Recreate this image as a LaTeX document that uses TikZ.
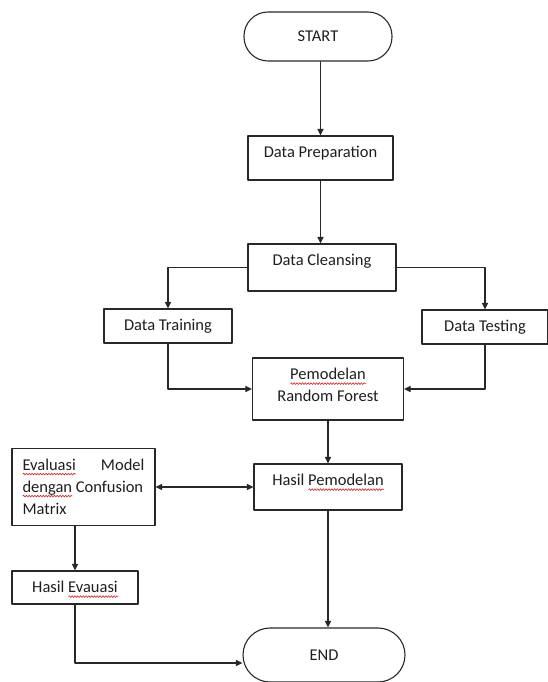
\documentclass[tikz,border=0pt]{standalone}
\usepackage{fontspec}
\setmainfont{Carlito}
\usetikzlibrary{arrows.meta,decorations.pathmorphing}
\definecolor{lineg}{RGB}{40,40,40}
\definecolor{inkg}{RGB}{30,30,30}
\definecolor{spellred}{RGB}{205,40,40}
\newcommand\spellwave[1]{\setbox0\hbox{#1}\leavevmode\rlap{\smash{\tikz[baseline=0pt]\draw[spellred,line width=0.6pt,decorate,decoration={snake,amplitude=0.9pt,segment length=2.8pt}] (0pt,-4pt) -- (\the\wd0,-4pt);}}\box0\relax}
\newcommand\evline[1]{\hbox to 122pt{#1}}

\begin{document}
\begin{tikzpicture}[x=1pt,y=1pt,line cap=round,line join=round,
  txt/.style={anchor=north,yshift=-10.5pt,inner sep=0pt,align=center,text=inkg,font=\fontsize{16.5}{22}\selectfont},
  proc/.style={draw=lineg,line width=1.1pt,inner sep=0pt,label={[txt]north:#1}},
  term/.style={draw=lineg,line width=1.1pt,rounded corners=24pt,text=inkg,font=\fontsize{16.5}{22}\selectfont},
  flow/.style={draw=lineg,line width=1.1pt,-{Triangle[length=6.5pt,width=6pt]}}]
\useasboundingbox (0,0) rectangle (548,682);
\node[term,minimum width=148pt,minimum height=49pt] (start) at (318,645.5) {START};
\node[proc=Data Preparation,minimum width=145pt,minimum height=44pt] (prep) at (320.5,524) {};
\node[proc=Data Cleansing,minimum width=148pt,minimum height=47pt] (clean) at (322,414.5) {};
\node[proc=Data Training,minimum width=128pt,minimum height=34pt] (train) at (168,356) {};
\node[proc=Data Testing,minimum width=126pt,minimum height=34pt] (test) at (485,355) {};
\node[proc={\spellwave{Pemodelan}\\Random Forest},minimum width=151pt,minimum height=62pt] (pem) at (328,293) {};
\node[proc={Hasil \spellwave{Pemodelan}},minimum width=148pt,minimum height=46pt] (hasil) at (328,195) {};
\node[proc={\evline{\spellwave{Evaluasi}\hfill Model}\\\evline{\spellwave{dengan} Confusion\hfill}\\\evline{Matrix\hfill}},minimum width=143pt,minimum height=77pt] (eval) at (83.5,195) {};
\node[proc={Hasil \spellwave{Evauasi}},minimum width=126pt,minimum height=33pt] (hev) at (75,94.5) {};
\node[term,minimum width=162pt,minimum height=54pt,rounded corners=27pt] (endn) at (324,27) {END};
\draw[flow] (prep.north |- start.south) -- (prep.north);
\draw[flow] (prep.south) -- (prep.south |- clean.north);
\draw[flow] (clean.west) -| (train.north);
\draw[flow] (clean.east) -| (test.north);
\draw[flow] (train.south) |- (pem.west);
\draw[flow] (test.south) |- (pem.east);
\draw[flow] (pem.south) -- (hasil.north);
\draw[flow,{Triangle[length=6.5pt,width=6pt]}-{Triangle[length=6.5pt,width=6pt]}] (eval.east) -- (hasil.west);
\draw[flow] (hev.north |- eval.south) -- (hev.north);
\draw[flow] (hev.south) |- ([yshift=-8pt]endn.west);
\draw[flow] (hasil.south) -- (hasil.south |- endn.north);
\end{tikzpicture}
\end{document}
